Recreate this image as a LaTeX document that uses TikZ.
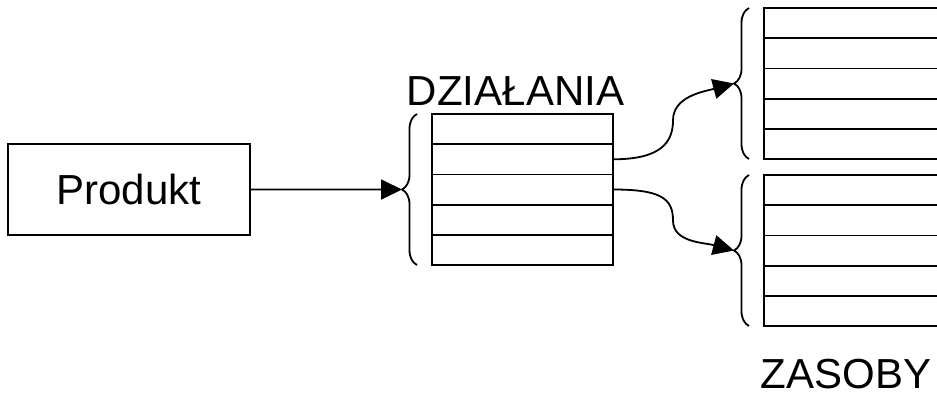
\documentclass[tikz,border=0pt]{standalone}
\usepackage{fontspec}
\setmainfont{Liberation Sans}
\usetikzlibrary{arrows.meta,calc,positioning,decorations.pathreplacing}

\begin{document}
\begin{tikzpicture}[
  x=1pt, y=-1pt,
  box/.style={draw, line width=1.8pt, minimum width=242pt, minimum height=91pt, font=\fontsize{42}{50}\selectfont, inner sep=0pt},
  cell/.style={draw, line width=1.8pt, minimum width=#1, minimum height=30.2pt, inner sep=0pt, outer sep=0pt},
  cell/.default=181pt,
  lbl/.style={font=\fontsize{42}{50}\selectfont, inner sep=0pt},
  brc/.style={decorate, decoration={brace, amplitude=15pt}, line width=1.8pt},
  arr/.style={line width=1.8pt, -{Triangle[length=21pt, width=20pt]}},
]
\useasboundingbox (0,0) rectangle (937,394);
\node[box] (prod) at (129,189.5) {Produkt};
% three tables of five rows
\foreach \i in {1,...,5}{
  \node[cell] (act\i) at (522.5,{98.9+30.2*\i}) {};
  \node[cell=200pt] (resA\i) at (864,{-7.1+30.2*\i}) {};
  \node[cell=200pt] (resB\i) at (864,{159.9+30.2*\i}) {};
}
\node[lbl] (actLbl) at (515.5,91) {DZIAŁANIA};
\node[lbl] (resLbl) at (846,374) {ZASOBY};
% braces in front of the tables
\draw[brc] ($(act5.south west)+(-15,0)$) -- ($(act1.north west)+(-15,0)$);
\draw[brc] ($(resA5.south west)+(-15,0)$) -- ($(resA1.north west)+(-15,0)$);
\draw[brc] ($(resB5.south west)+(-15,0)$) -- ($(resB1.north west)+(-15,0)$);
\coordinate (tipAct) at ($(act3.west)+(-30,0)$);
\coordinate (tipResA) at ($(resA3.west)+(-30,0)$);
\coordinate (tipResB) at ($(resB3.west)+(-30,0)$);
\coordinate (bendA) at ($(act2.east)+(60,-39)$);
\coordinate (bendB) at ($(act3.east)+(60,31)$);
% connectors
\draw[arr] (prod) -- (tipAct);
\draw[arr] (act2.east) .. controls ($(act2.east)+(48,0)$) and ($(bendA)+(0,22)$) .. (bendA)
  .. controls ($(bendA)+(0,-24)$) and ($(tipResA)+(-30,8)$) .. (tipResA);
\draw[arr] (act3.east) .. controls ($(act3.east)+(48,0)$) and ($(bendB)+(0,-22)$) .. (bendB)
  .. controls ($(bendB)+(0,22)$) and ($(tipResB)+(-30,-8)$) .. (tipResB);
\end{tikzpicture}
\end{document}
